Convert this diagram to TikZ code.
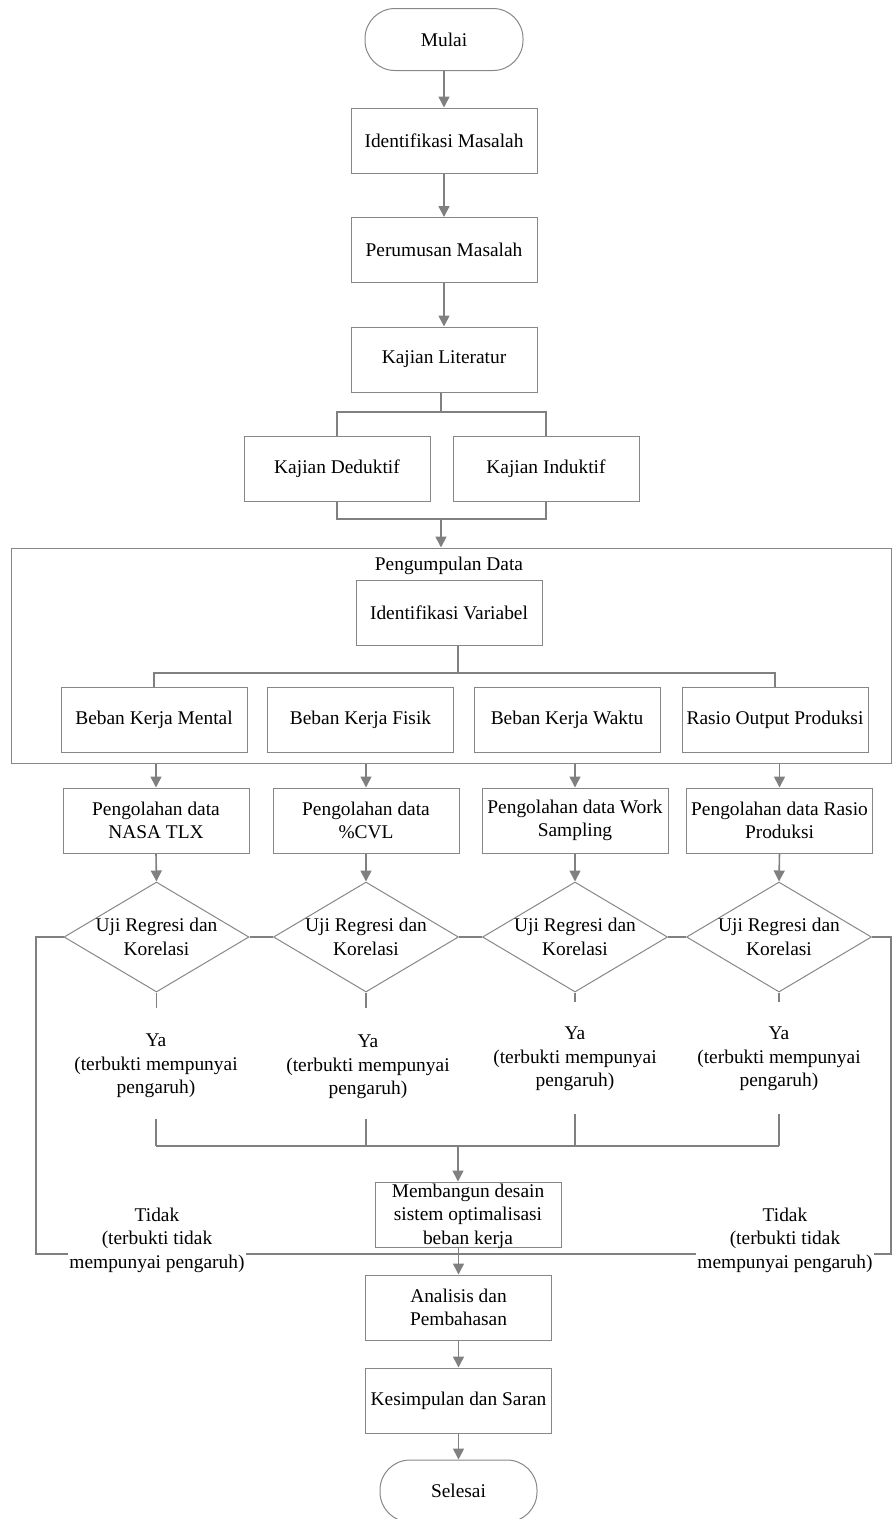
\documentclass[tikz,border=0pt]{standalone}
\usepackage{fontspec}
\setmainfont{Liberation Serif}
\usetikzlibrary{shapes.geometric,arrows.meta,calc}
\definecolor{lc}{RGB}{128,128,128}
\definecolor{bc}{RGB}{135,135,135}
\begin{document}
\begin{tikzpicture}[x=1pt,y=-1pt,
  font=\fontsize{19.4}{23.5}\selectfont,
  box/.style={draw=bc, line width=1pt, minimum width=186pt, minimum height=65pt, inner sep=0pt, align=center},
  term/.style={draw=bc, line width=1pt, rounded corners=30pt, minimum width=158pt, minimum height=62pt, inner sep=0pt},
  dec/.style={draw=bc, line width=1pt, diamond, minimum width=185pt, minimum height=110pt, inner sep=0pt},
  arr/.style={draw=lc, line width=1.6pt, -{Triangle[width=11pt,length=11pt]}},
  ln/.style={draw=lc, line width=1.6pt},
  lbl/.style={align=center, inner sep=1pt}]
\useasboundingbox (0,0) rectangle (892,1519);

% top chain
\node[term] (mulai) at (444,39.5) {Mulai};
\node[box] (idm) at (444,140.5) {Identifikasi Masalah};
\node[box] (pm) at (444,250) {Perumusan Masalah};
\node[box] (kl) at (444,359.5) {Kajian Literatur};
\node[box] (kd) at (337,468.5) {Kajian Deduktif};
\node[box] (ki) at (546,468.5) {Kajian Induktif};

\draw[arr] (mulai.south) -- (idm.north);
\draw[arr] (idm.south) -- (pm.north);
\draw[arr] (pm.south) -- (kl.north);

\coordinate (j1) at (441,412);
\coordinate (j2) at (441,519);
\draw[ln] (j1 |- kl.south) -- (j1);
\draw[ln] (kd.north) |- (j1) -| (ki.north);
\draw[ln] (kd.south) |- (j2) -| (ki.south);

% container
\node[draw=bc, line width=1pt, minimum width=880pt, minimum height=215pt, inner sep=0pt] (pd) at (451,655.5) {};
\draw[arr] (j2) -- (j2 |- pd.north);
\node (pdl) at (449,566) {Pengumpulan Data};
\node[box] (iv) at (449,612.5) {Identifikasi Variabel};

\node[box] (b1) at (154,719.5) {Beban Kerja Mental};
\node[box] (b2) at (360.5,719.5) {Beban Kerja Fisik};
\node[box] (b3) at (567,719.5) {Beban Kerja Waktu};
\node[box] (b4) at (775,719.5) {Rasio Output Produksi};

\coordinate (j3) at (458,673);
\draw[ln] (j3 |- iv.south) -- (j3);
\draw[ln] (b1.north) |- (j3) -| (b4.north);

% processing
\node[box] (p1) at (156,820.5) {Pengolahan data\\NASA TLX};
\node[box] (p2) at (366,820.5) {Pengolahan data\\\%CVL};
\node[box] (p3) at (575,820.5) {Pengolahan data Work\\Sampling};
\node[box] (p4) at (779.5,820.5) {Pengolahan data Rasio\\Produksi};

\foreach \i in {1,2,3,4}{
  \draw[arr] (p\i.north |- pd.south) -- (p\i.north);
}

% decisions
\node[dec] (d1) at (156.5,937) {};
\node[dec] (d2) at (366,937) {};
\node[dec] (d3) at (575,937) {};
\node[dec] (d4) at (779,937) {};
\foreach \i in {1,2,3,4}{
  \node[lbl] (dt\i) at (d\i) {Uji Regresi dan\\Korelasi};
  \draw[arr] (p\i.south) -- (d\i.north);
}
\draw[ln] (d1.east) -- (d2.west);
\draw[ln] (d2.east) -- (d3.west);
\draw[ln] (d3.east) -- (d4.west);

\draw[ln] (d1.south) -- ++(0,15);
\draw[ln] (d2.south) -- ++(0,15);
\draw[ln] (d3.south) -- ++(0,9);
\draw[ln] (d4.south) -- ++(0,9);

\node[lbl] (y1) at (156,1066) {Ya\\(terbukti mempunyai\\pengaruh)};
\node[lbl] (y2) at (368,1067) {Ya\\(terbukti mempunyai\\pengaruh)};
\node[lbl] (y3) at (575,1059) {Ya\\(terbukti mempunyai\\pengaruh)};
\node[lbl] (y4) at (779,1059) {Ya\\(terbukti mempunyai\\pengaruh)};

\coordinate (s1) at (156,1119);
\coordinate (s2) at (366,1119);
\coordinate (s3) at (575,1114);
\coordinate (s4) at (779,1114);
\coordinate (j4) at (458,1146);
\foreach \i in {1,2,3,4}{
  \draw[ln] (s\i) -- (s\i |- j4);
}
\draw[ln] (s1 |- j4) -- (s4 |- j4);

% lower chain
\node[box] (mb) at (468,1214.5) {};
\node[lbl] (mbt) at (468,1216) {Membangun desain\\sistem optimalisasi\\beban kerja};
\draw[arr] (j4) -- (j4 |- mb.north);

\node[box] (an) at (458.5,1307.5) {Analisis dan\\Pembahasan};
\node[box] (ks) at (458.5,1400.5) {Kesimpulan dan Saran};
\node[term, minimum width=157pt] (sel) at (458.5,1491) {Selesai};

% Tidak loops
\coordinate (tl) at (36,1254);
\coordinate (tr) at (891,1254);
\coordinate (j5) at (458,1254);
\draw[ln] (d1.west) -| (tl) -- (j5);
\draw[ln] (d4.east) -| (tr) -- (j5);
\node[lbl, fill=white] (t1) at (157,1240) {Tidak\\(terbukti tidak\\mempunyai pengaruh)};
\node[lbl, fill=white] (t2) at (785,1240) {Tidak\\(terbukti tidak\\mempunyai pengaruh)};

\draw[arr] (an.north |- mb.south) -- (an.north);
\draw[arr] (an.south) -- (ks.north);
\draw[arr] (ks.south) -- (sel.north);
\end{tikzpicture}
\end{document}
